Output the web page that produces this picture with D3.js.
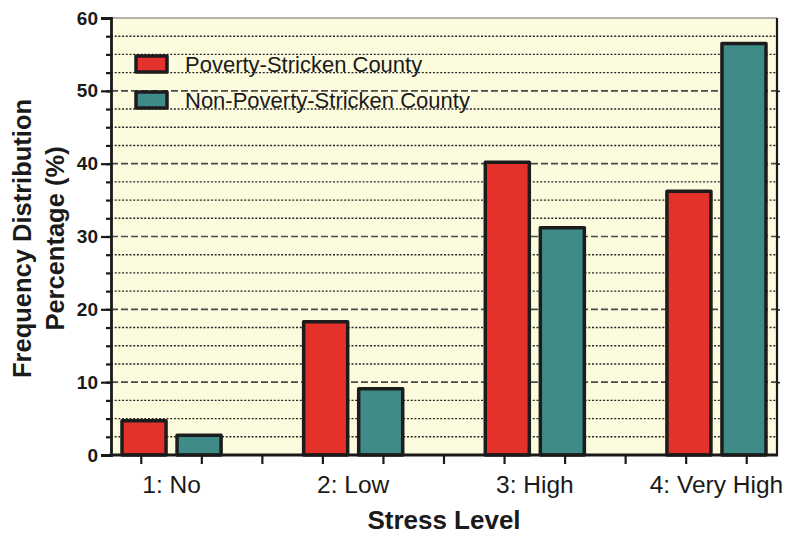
<!DOCTYPE html>
<html lang="en">
<head>
<meta charset="utf-8">
<title>Stress Level</title>
<script src="https://d3js.org/d3.v7.min.js"></script>
<style>
  body { margin: 0; background: #fff; }
  text { font-family: "Liberation Sans", Arial, sans-serif; fill: #1a1a1a; }
</style>
</head>
<body>
<div id="chart"></div>
<script>
// data
const categories = ["1: No", "2: Low", "3: High", "4: Very High"];
const seriesNames = ["Poverty-Stricken County", "Non-Poverty-Stricken County"];
const poverty = [4.7, 18.3, 40.2, 36.2];
const nonPoverty = [2.7, 9.1, 31.2, 56.5];
const majorTicks = [0, 10, 20, 30, 40, 50, 60];
const minorTicks = d3.range(0, 60.01, 2.5);

const colors = ["#e4312c", "#3e8b87"];
const width = 786, height = 534;
const margin = {left: 111, right: 9, top: 18, bottom: 79};
const x0 = margin.left, x1 = width - margin.right;
const yTop = margin.top, yBot = height - margin.bottom;

const svg = d3.select("#chart").append("svg")
  .attr("width", width)
  .attr("height", height);

const x = d3.scaleBand().domain(categories).range([x0, x1]).paddingInner(1/3).paddingOuter(0);
const xs = d3.scaleBand().domain(seriesNames).range([0, x.bandwidth()]).padding(0.2);
// one slot per bar and per gap, for the tick marks
const slots = d3.scaleBand().domain(d3.range(categories.length * 3 - 1)).range([x0, x1]);
const y = d3.scaleLinear().domain([0, 60]).range([yBot, yTop]);

// plot background
svg.append("rect")
  .attr("x", x0).attr("y", yTop)
  .attr("width", x1 - x0).attr("height", yBot - yTop)
  .attr("fill", "#fdfbde");

// grid
const minorOnly = minorTicks.filter(v => v % 10 !== 0);
svg.append("g").selectAll("line")
  .data(minorOnly).join("line")
  .attr("x1", x0).attr("x2", x1)
  .attr("y1", d => y(d)).attr("y2", d => y(d))
  .attr("stroke", "#262626").attr("stroke-width", 1.4)
  .attr("stroke-dasharray", "2,1.7");
svg.append("g").selectAll("line")
  .data(majorTicks.filter(v => v > 0 && v < 60)).join("line")
  .attr("x1", x0).attr("x2", x1)
  .attr("y1", d => y(d)).attr("y2", d => y(d))
  .attr("stroke", "#4a4a4a").attr("stroke-width", 1.7)
  .attr("stroke-dasharray", "7,3");

// top and right border
svg.append("line").attr("x1", x0).attr("x2", x1).attr("y1", yTop).attr("y2", yTop)
  .attr("stroke", "#666").attr("stroke-width", 1.2);
svg.append("line").attr("x1", x1).attr("x2", x1).attr("y1", yTop).attr("y2", yBot)
  .attr("stroke", "#1a1a1a").attr("stroke-width", 2.2);

// bars
const rows = categories.map((c, i) => ({cat: c, vals: [poverty[i], nonPoverty[i]]}));
const groups = svg.append("g").selectAll("g")
  .data(rows).join("g")
  .attr("transform", d => `translate(${x(d.cat)},0)`);
groups.selectAll("rect")
  .data(d => d.vals.map((v, j) => ({name: seriesNames[j], v: v, j: j})))
  .join("rect")
  .attr("x", d => xs(d.name))
  .attr("y", d => y(d.v))
  .attr("width", xs.bandwidth())
  .attr("height", d => y(0) - y(d.v))
  .attr("fill", d => colors[d.j])
  .attr("stroke", "#1c1c1c")
  .attr("stroke-width", 3.5)
  .attr("stroke-linejoin", "round");

// y axis: minor then major ticks
svg.append("g")
  .attr("transform", `translate(${x0},0)`)
  .call(d3.axisLeft(y).tickValues(minorTicks).tickSize(5).tickFormat(""))
  .call(g => g.select(".domain").remove())
  .call(g => g.selectAll("line").attr("stroke", "#1a1a1a").attr("stroke-width", 2.2));
const yAxis = svg.append("g")
  .attr("transform", `translate(${x0},0)`)
  .call(d3.axisLeft(y).tickValues(majorTicks).tickSize(10).tickPadding(3))
  .call(g => g.select(".domain").attr("stroke", "#1a1a1a").attr("stroke-width", 2.8));
yAxis.selectAll("line").attr("stroke", "#1a1a1a").attr("stroke-width", 2.2);
yAxis.selectAll("text")
  .attr("font-size", 19).attr("font-weight", "bold")
  .attr("font-family", "Liberation Sans, Arial, sans-serif")
  .attr("fill", "#1a1a1a");

// right side short ticks
svg.append("g")
  .attr("transform", `translate(${x1},0)`)
  .call(d3.axisRight(y).tickValues(majorTicks.filter(v => v > 0 && v < 60)).tickSize(3).tickFormat(""))
  .call(g => g.select(".domain").remove())
  .call(g => g.selectAll("line").attr("stroke", "#1a1a1a").attr("stroke-width", 1.5));

// x axis: ticks at every slot, labels at each group
svg.append("g")
  .attr("transform", `translate(0,${yBot})`)
  .call(d3.axisBottom(slots).tickSize(9).tickFormat(""))
  .call(g => g.select(".domain").remove())
  .call(g => g.selectAll("line").attr("stroke", "#1a1a1a").attr("stroke-width", 2.2));
svg.append("line")
  .attr("x1", x0 - 1.4).attr("x2", x1 + 1)
  .attr("y1", yBot).attr("y2", yBot)
  .attr("stroke", "#1a1a1a").attr("stroke-width", 3);
const xAxis = svg.append("g")
  .attr("transform", `translate(0,${yBot})`)
  .call(d3.axisBottom(x).tickSize(0).tickPadding(0))
  .call(g => g.select(".domain").remove());
xAxis.selectAll("text")
  .attr("y", 38).attr("dy", 0)
  .attr("font-size", 24.5)
  .attr("font-family", "Liberation Sans, Arial, sans-serif")
  .attr("fill", "#1a1a1a");

// axis titles
svg.append("text")
  .attr("x", (x0 + x1) / 2).attr("y", 529)
  .attr("text-anchor", "middle")
  .attr("font-size", 26).attr("font-weight", "bold")
  .text("Stress Level");
const yTitle = svg.append("text")
  .attr("transform", `translate(0,${(yTop + yBot) / 2 + 2}) rotate(-90)`)
  .attr("text-anchor", "middle")
  .attr("font-size", 25.5).attr("font-weight", "bold");
yTitle.append("tspan").attr("x", 0).attr("y", 31).text("Frequency Distribution");
yTitle.append("tspan").attr("x", 0).attr("y", 64).text("Percentage (%)");

// legend
const legend = svg.append("g").selectAll("g")
  .data(seriesNames).join("g")
  .attr("transform", (d, i) => `translate(136,${56 + i * 36})`);
legend.append("rect")
  .attr("width", 31).attr("height", 16)
  .attr("fill", (d, i) => colors[i])
  .attr("stroke", "#1c1c1c").attr("stroke-width", 3.5)
  .attr("stroke-linejoin", "round");
legend.append("text")
  .attr("x", 49).attr("y", 16)
  .attr("font-size", 22)
  .text(d => d);
</script>
</body>
</html>
